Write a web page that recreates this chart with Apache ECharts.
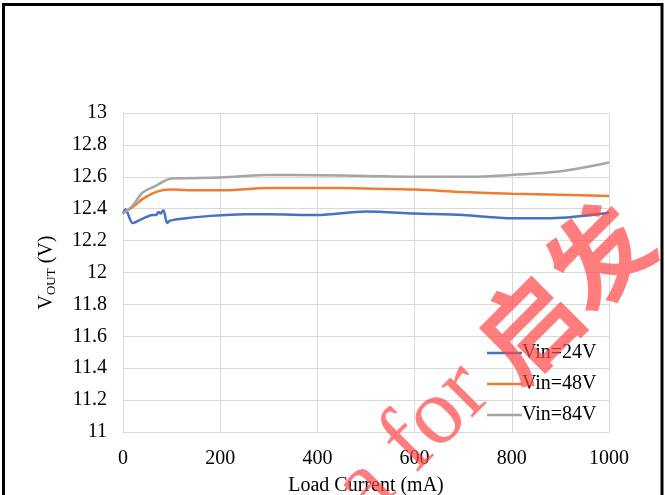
<!DOCTYPE html>
<html>
<head>
<meta charset="utf-8">
<script src="https://cdn.jsdelivr.net/npm/echarts@6/dist/echarts.min.js"></script>
<style>
  html, body { margin: 0; padding: 0; background: #fff; overflow: hidden; }
  #chart { width: 665px; height: 495px; }
</style>
</head>
<body>
<div id="chart"></div>
<script>
// Output voltage vs. load current for three input voltages
const load24 = [0, 5, 20, 35, 50, 60, 68, 73, 77, 83, 91, 97, 130, 180, 250, 300, 400, 500, 600, 700, 800, 880, 1000];
const vout24 = [12.37, 12.395, 12.31, 12.33, 12.35, 12.36, 12.36, 12.38, 12.37, 12.39, 12.31, 12.325, 12.34, 12.355, 12.365, 12.365, 12.36, 12.382, 12.37, 12.36, 12.34, 12.34, 12.374];

const load48 = [0, 20, 30, 40, 60, 80, 100, 150, 200, 300, 400, 500, 600, 700, 800, 900, 1000];
const vout48 = [12.37, 12.41, 12.435, 12.46, 12.495, 12.515, 12.52, 12.515, 12.515, 12.53, 12.53, 12.527, 12.52, 12.505, 12.494, 12.488, 12.48];

const load84 = [0, 20, 40, 65, 100, 200, 300, 400, 500, 600, 700, 800, 900, 1000];
const vout84 = [12.37, 12.42, 12.50, 12.54, 12.59, 12.595, 12.612, 12.61, 12.605, 12.60, 12.60, 12.612, 12.635, 12.69];

const seriesNames = ['Vin=24V', 'Vin=48V', 'Vin=84V'];
const seriesColors = ['#4472C4', '#ED7D31', '#A5A5A5'];
const watermarkText = 'a for {c|启发}';

const pairs = (xs, ys) => xs.map((x, i) => [x, ys[i]]);
const seriesData = [pairs(load24, vout24), pairs(load48, vout48), pairs(load84, vout84)];

const serif = '"Liberation Serif", "Times New Roman", serif';
const chart = echarts.init(document.getElementById('chart'), null, { renderer: 'canvas', width: 665, height: 495 });

chart.setOption({
  backgroundColor: '#fff',
  animation: false,
  grid: { left: 123, width: 486, top: 113, height: 319, containLabel: false, outerBoundsMode: 'none' },
  xAxis: {
    type: 'value',
    min: 0, max: 1000, interval: 200,
    name: 'Load Current (mA)',
    nameLocation: 'middle',
    nameGap: 44,
    nameTextStyle: { fontFamily: serif, fontSize: 20, color: '#000' },
    axisLine: { show: true, lineStyle: { color: '#D9D9D9', width: 1 } },
    axisTick: { show: false },
    axisLabel: { fontFamily: serif, fontSize: 20, color: '#000', margin: 17, formatter: v => String(v) },
    splitLine: { show: true, lineStyle: { color: '#D9D9D9', width: 1 } }
  },
  yAxis: {
    type: 'value',
    min: 11, max: 13, interval: 0.2,
    name: '{v|V}{s|OUT}{v| (V)}',
    nameLocation: 'middle',
    nameRotate: 90,
    nameGap: 65,
    nameTextStyle: {
      fontFamily: serif, color: '#000',
      rich: {
        v: { fontFamily: serif, fontSize: 20, color: '#000', lineHeight: 22 },
        s: { fontFamily: serif, fontSize: 13, color: '#000', verticalAlign: 'bottom', lineHeight: 22, padding: [9, 0, 0, 0] }
      }
    },
    axisLine: { show: true, lineStyle: { color: '#D9D9D9', width: 1 } },
    axisTick: { show: false },
    axisLabel: {
      fontFamily: serif, fontSize: 20, color: '#000', margin: 16,
      padding: [4, 0, 0, 0],
      formatter: v => String(Math.round(v * 10) / 10)
    },
    splitLine: { show: true, lineStyle: { color: '#D9D9D9', width: 1 } }
  },
  legend: {
    orient: 'vertical',
    left: 482,
    top: 338,
    icon: 'rect',
    itemWidth: 35,
    itemHeight: 2.5,
    itemGap: 11,
    data: seriesNames,
    textStyle: { fontFamily: serif, fontSize: 20, color: '#000', lineHeight: 20, padding: [0, 0, 0, -5] }
  },
  series: seriesNames.map((name, i) => ({
    name,
    type: 'line',
    data: seriesData[i],
    symbol: 'none',
    smooth: 0.3,
    color: seriesColors[i],
    lineStyle: { color: seriesColors[i], width: 2.5 },
    z: 3
  })),
  graphic: [
    {
      type: 'rect',
      shape: { x: 3.5, y: 4.5, width: 658.5, height: 600 },
      style: { fill: 'none', stroke: '#000', lineWidth: 3 },
      silent: true,
      z: 100
    },
    {
      type: 'text',
      x: 492, y: 362,
      rotation: Math.PI / 4,
      style: {
        text: watermarkText,
        font: '95px "Liberation Serif", serif',
        fill: 'rgba(255, 70, 70, 0.7)',
        align: 'center',
        verticalAlign: 'middle',
        rich: {
          c: { fontFamily: '"Noto Sans CJK SC", sans-serif', fontSize: 100, fontWeight: 'bold', fill: 'rgba(255, 70, 70, 0.7)' }
        }
      },
      silent: true,
      z: 50
    }
  ]
});
</script>
</body>
</html>
